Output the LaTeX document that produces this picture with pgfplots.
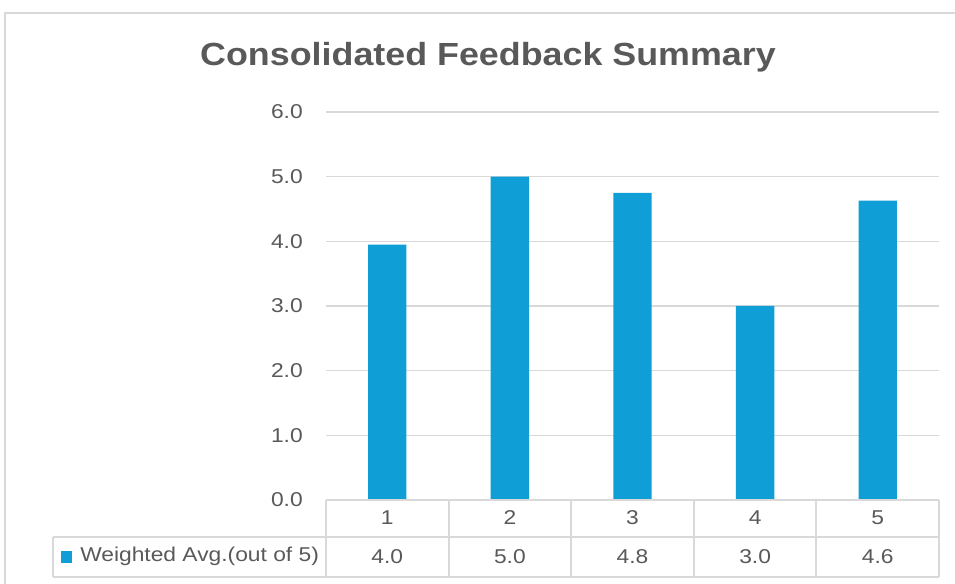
\documentclass[border=0pt]{standalone}
\usepackage{pgfplots}
\pgfplotsset{compat=1.18}
\usepackage{fontspec}
\setmainfont{Liberation Sans}[FakeStretch=1.14]
\newfontfamily\titlefont{Liberation Sans}[FakeStretch=1.12]
\definecolor{barc}{HTML}{0F9ED5}
\definecolor{txt}{HTML}{595959}
\definecolor{gridc}{HTML}{D9D9D9}
\pgfplotstableread{
x y
1 3.95
2 5.00
3 4.75
4 3.00
5 4.63
}\datatab
\begin{document}
\begin{tikzpicture}[x=0.75pt,y=0.75pt]
\path[use as bounding box] (0,0) rectangle (955,584);
% chart border
\draw[gridc, line width=1.1pt] (5,0) -- (5,571) -- (955,571);
% title
\node[txt, anchor=base, inner sep=0pt, font=\titlefont\fontsize{24}{28}\selectfont\bfseries] at (488,518) {Consolidated Feedback Summary};
\begin{axis}[
  at={(244.5pt,63pt)}, anchor=south west,
  scale only axis, width=459.75pt, height=291pt,
  xmin=0.5, xmax=5.5, ymin=0, ymax=6,
  ytick={0,1,...,6},
  xtick=data, xticklabels={1,2,3,4,5},
  major tick length=0pt,
  axis line style={draw=none},
  ymajorgrids, grid style={gridc, line width=0.9pt},
  /pgf/number format/assume math mode=true,
  y tick label style={/pgf/number format/fixed, /pgf/number format/fixed zerofill, /pgf/number format/precision=1},
  tick label style={txt, font=\fontsize{15}{18}\selectfont, inner sep=0pt},
  yticklabel style={anchor=east, xshift=-17.25pt},
  xticklabel style={anchor=center, yshift=-13.5pt},
  clip=false,
]
\addplot[ybar, bar width=0.313, fill=barc, draw=none] table[x=x,y=y] {\datatab};
\node[txt, font=\fontsize{15}{18}\selectfont, inner sep=0pt] at (axis cs:1,0) [yshift=-42.4pt] {4.0};
\node[txt, font=\fontsize{15}{18}\selectfont, inner sep=0pt] at (axis cs:2,0) [yshift=-42.4pt] {5.0};
\node[txt, font=\fontsize{15}{18}\selectfont, inner sep=0pt] at (axis cs:3,0) [yshift=-42.4pt] {4.8};
\node[txt, font=\fontsize{15}{18}\selectfont, inner sep=0pt] at (axis cs:4,0) [yshift=-42.4pt] {3.0};
\node[txt, font=\fontsize{15}{18}\selectfont, inner sep=0pt] at (axis cs:5,0) [yshift=-42.4pt] {4.6};
\end{axis}
% data table
\begin{scope}[gridc, line width=0.9pt]
\draw (326,84) -- (939,84);
\draw (53,47) -- (939,47);
\draw (53,7) -- (939,7);
\draw (53,47) -- (53,7);
\foreach \xx in {326,449,571,694,816,939} {\draw (\xx,84) -- (\xx,7);}
\end{scope}
\fill[barc] (61,21) rectangle (72,33);
\node[txt, anchor=west, font=\fontsize{15}{18}\selectfont, inner sep=0pt] at (80,27.5) {Weighted Avg.(out of 5)};
\end{tikzpicture}
\end{document}
